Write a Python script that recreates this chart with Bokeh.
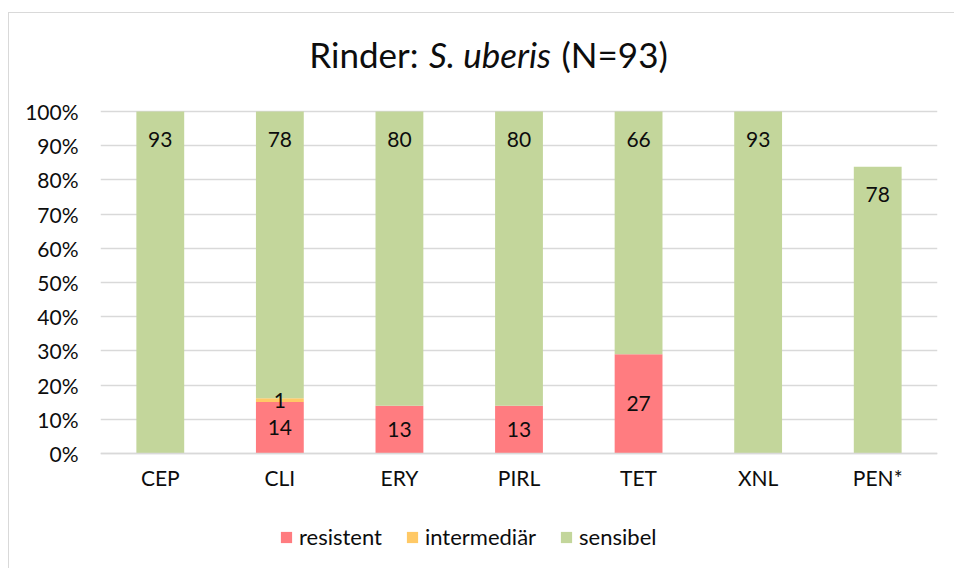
from bokeh.plotting import figure
from bokeh.models import Range1d, ColumnDataSource, Label, FixedTicker, NumeralTickFormatter
from bokeh.core.properties import value
from bokeh.embed import file_html
from bokeh.resources import INLINE

N = 93
categories = ["CEP", "CLI", "ERY", "PIRL", "TET", "XNL", "PEN*"]
resistent = [0, 14, 13, 13, 27, 0, 0]
intermediaer = [0, 1, 0, 0, 0, 0, 0]
sensibel = [93, 78, 80, 80, 66, 93, 78]
series_names = ["resistent", "intermediär", "sensibel"]
colors = ["#FF7C80", "#FFC966", "#C3D69B"]
y_ticks = [i / 10 for i in range(11)]

FONT = "Lato"
TXT = "#0d0d0d"

# pixel layout of the value axis: 100% at y=111px, 0% at y=453px (page), canvas 13..569
PX_PER_UNIT = 342
y_lo = -(569 - 453) / PX_PER_UNIT
y_hi = 1 + (111 - 13) / PX_PER_UNIT

src = ColumnDataSource(dict(
    cat=categories,
    res=[v / N for v in resistent],
    int=[v / N for v in intermediaer],
    sen=[v / N for v in sensibel],
))

p = figure(x_range=categories, y_range=Range1d(y_lo, y_hi), width=946, height=556,
           output_backend="svg", toolbar_location=None,
           min_border_left=91, min_border_right=18, min_border_top=0, min_border_bottom=0)
p.styles = {"margin-left": "8px", "margin-top": "12px",
            "border-left": "1px solid #d9d9d9", "border-top": "1px solid #d9d9d9"}
p.outline_line_color = None
p.background_fill_color = "white"
p.border_fill_color = "white"

p.vbar_stack(["res", "int", "sen"], x="cat", width=0.4, source=src,
             fill_color=colors, line_color=None, legend_label=series_names)

# axes
p.yaxis.ticker = FixedTicker(ticks=y_ticks)
p.yaxis.formatter = NumeralTickFormatter(format="0%")
p.yaxis.axis_line_color = None
p.yaxis.major_tick_line_color = None
p.yaxis.minor_tick_line_color = None
p.yaxis.major_label_standoff = 16
p.yaxis.major_label_text_font = FONT
p.yaxis.major_label_text_font_size = "21px"
p.yaxis.major_label_text_color = TXT

p.xaxis.fixed_location = 0
p.xaxis.axis_line_color = "#d9d9d9"
p.xaxis.axis_line_width = 1.5
p.xaxis.major_tick_line_color = None
p.xaxis.minor_tick_line_color = None
p.xaxis.major_label_standoff = 5
p.xaxis.major_label_text_font = FONT
p.xaxis.major_label_text_font_size = "21px"
p.xaxis.major_label_text_color = TXT

p.xgrid.grid_line_color = None
p.ygrid.grid_line_color = "#d9d9d9"
p.ygrid.grid_line_width = 1.5

# data labels
lx, ly, lt = [], [], []
for i, c in enumerate(categories):
    r, m, s = resistent[i], intermediaer[i], sensibel[i]
    if r:
        lx.append(c); ly.append(r / 2 / N); lt.append(str(r))
    if m:
        lx.append(c); ly.append((r + m / 2) / N); lt.append(str(m))
    if s:
        lx.append(c); ly.append((r + m + s) / N - 0.082); lt.append(str(s))
p.text(x=lx, y=ly, text=lt, text_align="center", text_baseline="middle",
       text_font=value(FONT), text_font_size="21px", text_color=TXT)

# title (mixed styles), positioned via the plot's scales
step = 837 / len(categories)
def px2x(px):
    return (px - 100) / step
ty = 1 + (111 - 53) / PX_PER_UNIT
for txt, px, align, style in [("Rinder:", 418, "right", "normal"),
                              ("S. uberis", 489.5, "center", "italic"),
                              ("(N=93)", 561, "left", "normal")]:
    p.add_layout(Label(x=px2x(px), y=ty, text=txt, text_align=align, text_baseline="alphabetic",
                       text_font=FONT, text_font_size="35px", text_font_style=style,
                       text_color=TXT))

# legend
lg = p.legend[0]
lg.orientation = "horizontal"
lg.location = (179, 19)
lg.border_line_color = None
lg.background_fill_alpha = 0
lg.padding = 0
lg.margin = 0
lg.spacing = 23
lg.label_standoff = 6
lg.glyph_width = 14
lg.glyph_height = 14
lg.label_height = 24
lg.label_text_font = FONT
lg.label_text_font_size = "22px"
lg.label_text_color = TXT

open("out.html", "w").write(file_html(p, INLINE))
